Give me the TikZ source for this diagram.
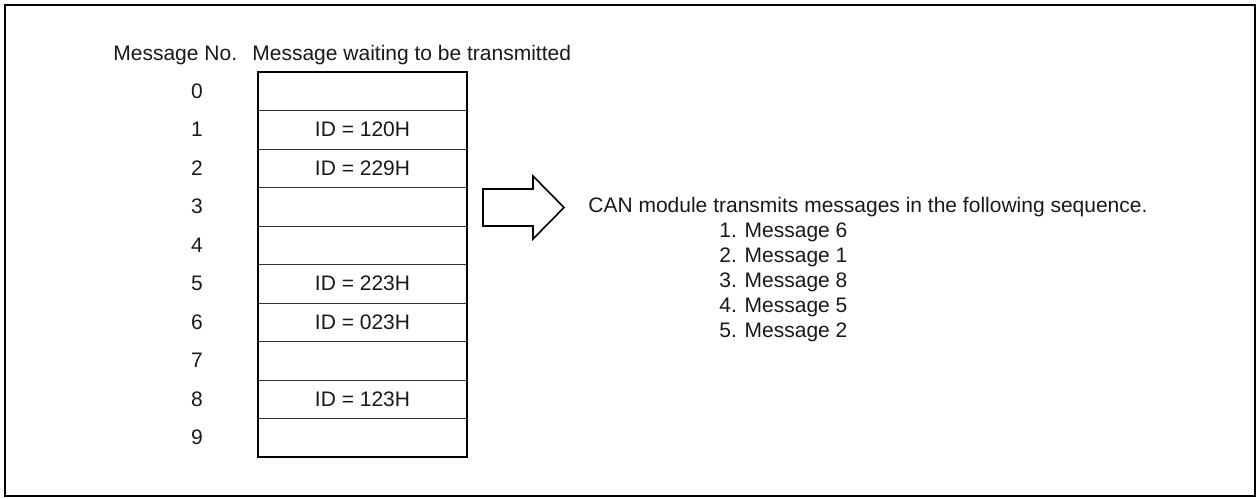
\documentclass[tikz,border=0pt]{standalone}
\usepackage{fontspec}
\setmainfont{Liberation Sans}
\usepackage{tikz}
\usetikzlibrary{calc, positioning}

\tikzset{
  txt/.style={inner sep=0pt, text=black!90},
  numlbl/.style={txt, anchor=center},
  idlbl/.style={txt, anchor=center},
  seqlbl/.style={txt, anchor=west},
}

\begin{document}
\begin{tikzpicture}[x=0.5pt, y=-0.5pt, font=\fontsize{10.5}{12.5}\selectfont]
    \useasboundingbox (0,0) rectangle (1258,498);
    \draw[line width=1pt] (5,5) rectangle (1255,496);

    \node[txt, anchor=west] (hno) at (113,55) {Message No.};
    \node[txt, anchor=west] (hwait) at (252,55) {Message waiting to be transmitted};

    \draw[line width=0.4pt, black!80] \foreach \i in {1,...,9} {(258,{72+38.5*\i}) -- (467,{72+38.5*\i})};
    \draw[line width=1.2pt] (258,72) rectangle (467,457);

    \foreach \n/\id in {0/,1/ID = 120H,2/ID = 229H,3/,4/,5/ID = 223H,6/ID = 023H,7/,8/ID = 123H,9/} {
        \node[numlbl] (n\n) at (197,{91.25+38.5*\n}) {\n};
        \node[idlbl] (m\n) at (362.5,{91.25+38.5*\n}) {\id};
    }

    \draw[line width=0.8pt, fill=white] (483,189) -- (533,189) -- (533,176) -- (564,207.5)
        -- (533,239) -- (533,226) -- (483,226) -- cycle;

    \node[seqlbl] (can) at (588,207) {CAN module transmits messages in the following sequence.};
    \foreach \k/\m in {1/6,2/1,3/8,4/5,5/2} {
        \node[seqlbl] (s\k) at (719,{207+25*\k}) {\k. Message \m};
    }
\end{tikzpicture}
\end{document}
